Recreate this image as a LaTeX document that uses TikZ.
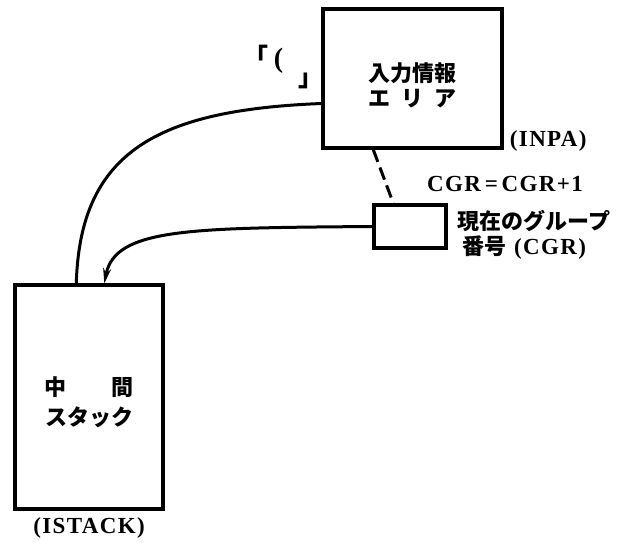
\documentclass[tikz,border=0pt]{standalone}
\usepackage{fontspec}
\setmainfont{Liberation Serif}[LetterSpace=6]
\newfontfamily\jpfont{Noto Sans CJK JP}
\usetikzlibrary{arrows.meta,positioning}
\tikzset{
  area/.style={draw,line width=3.4pt,align=center,inner sep=0pt,font=\jpfont\bfseries\fontsize{22}{25}\selectfont},
  tag/.style={inner sep=0pt,align=left,font=\bfseries\fontsize{23}{25}\selectfont},
  flow/.style={line width=3pt}
}
\begin{document}
\begin{tikzpicture}[x=1pt,y=-1pt,>={Stealth[length=15pt,width=8pt]}]
  \useasboundingbox (0,0) rectangle (626,543);
  \node[area,minimum width=179pt,minimum height=139pt,text height=58pt] (inpa) at (412.5,78.5) {入力情報\\\makebox[89pt]{エ\hfill リ\hfill ア}};
  \node[area,minimum width=72pt,minimum height=43pt] (cgr) at (410,226.5) {};
  \node[area,minimum width=148pt,minimum height=224pt,text height=59pt,font=\jpfont\bfseries\fontsize{22}{30}\selectfont] (istack) at (89,397) {\makebox[90pt]{中\hfill 間}\\スタック};
  % labels
  \node[tag,anchor=west] (inpalbl) at ([xshift=6pt,yshift=9pt]inpa.south east) {(INPA)};
  \node[tag] (incr) at (505,184) {CGR\,=\,CGR+1};
  \node[tag,right=10pt of cgr,yshift=-8pt] (cgrlbl) {{\jpfont\fontsize{22}{25}\selectfont 現在のグループ}\\\hspace{5pt}{\jpfont\fontsize{22}{25}\selectfont 番号} (CGR)};
  \node[tag,below=7pt of istack] (istacklbl) {(ISTACK)};
  \node[tag,font=\bfseries\fontsize{28}{30}\selectfont] (paren) at (283.5,67) {\raisebox{1pt}{\jpfont\fontsize{25}{25}\selectfont 「}\hspace{5pt}(\hspace{15pt}\raisebox{-19pt}{\jpfont\fontsize{25}{25}\selectfont 」}};
  % connectors
  \draw[flow,dash pattern=on 13pt off 6pt] ([xshift=52pt]inpa.south west) -- ([xshift=21pt]cgr.north west);
  \draw[flow] ([yshift=-25pt]inpa.west) .. controls (160,110) and (80,150) .. ([xshift=63pt]istack.north west);
  \draw[flow,->] (cgr.west) .. controls (190,228) and (115,228) .. ([xshift=91pt]istack.north west);
\end{tikzpicture}
\end{document}
